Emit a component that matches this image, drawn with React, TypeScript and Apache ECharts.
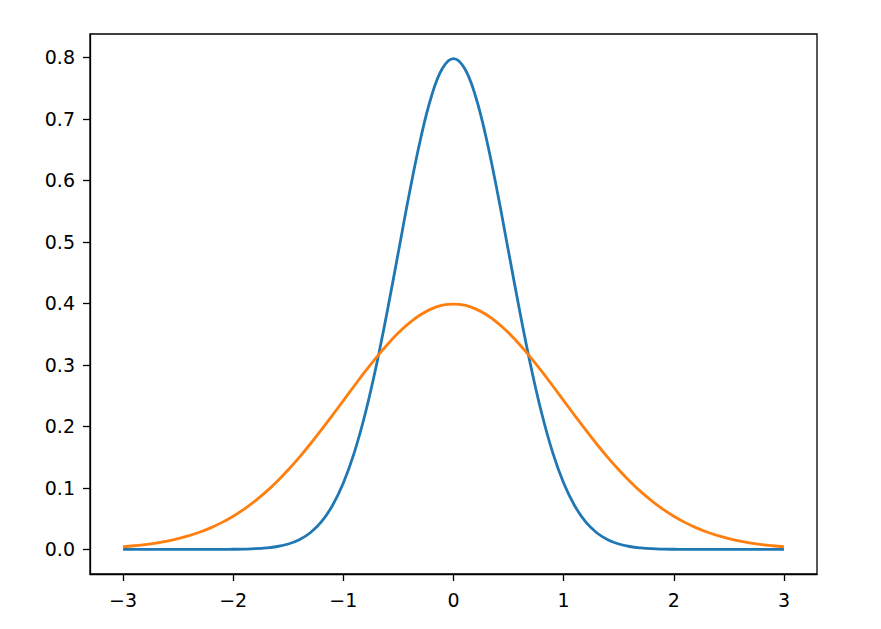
import React, { useEffect, useRef } from "react";
import * as echarts from "echarts";

const xs = [
  -3.0, -2.9, -2.8, -2.7, -2.6, -2.5, -2.4, -2.3, -2.2, -2.1,
  -2.0, -1.9, -1.8, -1.7, -1.6, -1.5, -1.4, -1.3, -1.2, -1.1,
  -1.0, -0.9, -0.8, -0.7, -0.6, -0.5, -0.4, -0.3, -0.2, -0.1,
  0.0,
  0.1, 0.2, 0.3, 0.4, 0.5, 0.6, 0.7, 0.8, 0.9, 1.0,
  1.1, 1.2, 1.3, 1.4, 1.5, 1.6, 1.7, 1.8, 1.9, 2.0,
  2.1, 2.2, 2.3, 2.4, 2.5, 2.6, 2.7, 2.8, 2.9, 3.0,
];

// narrow curve (blue)
const narrowValues = [
  0, 0, 0, 0, 0, 0, 0, 0, 0, 0.0001,
  0.0003, 0.0006, 0.0012, 0.0025, 0.0048, 0.0089, 0.0158, 0.0272, 0.0448, 0.071,
  0.108, 0.1579, 0.2218, 0.2995, 0.3884, 0.4839, 0.5794, 0.6664, 0.7366, 0.7821,
  0.7979,
  0.7821, 0.7366, 0.6664, 0.5794, 0.4839, 0.3884, 0.2995, 0.2218, 0.1579, 0.108,
  0.071, 0.0448, 0.0272, 0.0158, 0.0089, 0.0048, 0.0025, 0.0012, 0.0006, 0.0003,
  0.0001, 0, 0, 0, 0, 0, 0, 0, 0, 0,
];

// wide curve (orange)
const wideValues = [
  0.0044, 0.006, 0.0079, 0.0104, 0.0136, 0.0175, 0.0224, 0.0283, 0.0355, 0.044,
  0.054, 0.0656, 0.079, 0.094, 0.1109, 0.1295, 0.1497, 0.1714, 0.1942, 0.2179,
  0.242, 0.2661, 0.2897, 0.3123, 0.3332, 0.3521, 0.3683, 0.3814, 0.391, 0.397,
  0.3989,
  0.397, 0.391, 0.3814, 0.3683, 0.3521, 0.3332, 0.3123, 0.2897, 0.2661, 0.242,
  0.2179, 0.1942, 0.1714, 0.1497, 0.1295, 0.1109, 0.094, 0.079, 0.0656, 0.054,
  0.044, 0.0355, 0.0283, 0.0224, 0.0175, 0.0136, 0.0104, 0.0079, 0.006, 0.0044,
];

const xTicks = [-3, -2, -1, 0, 1, 2, 3];
const yTicks = [0, 0.1, 0.2, 0.3, 0.4, 0.5, 0.6, 0.7, 0.8];

const FONT = "DejaVu Sans";

export default function App() {
  const ref = useRef<HTMLDivElement>(null);
  useEffect(() => {
    if (!ref.current) return;
    const chart = echarts.init(ref.current, null, { renderer: "svg" });
    const axisLine = { show: true, onZero: false, lineStyle: { color: "#000", width: 1.3 } };
    const axisTick = { show: true, length: 7, lineStyle: { color: "#000", width: 1.3 } };
    chart.setOption({
      animation: false,
      backgroundColor: "#fff",
      grid: {
        left: 90,
        top: 34,
        right: 64,
        bottom: 55,
        show: true,
        borderColor: "#000",
        borderWidth: 1.3,
        backgroundColor: "transparent",
      },
      xAxis: {
        type: "value",
        min: -3.3,
        max: 3.3,
        axisLine,
        axisTick: { ...axisTick, customValues: xTicks },
        splitLine: { show: false },
        axisLabel: {
          customValues: xTicks,
          fontFamily: FONT,
          fontSize: 19,
          color: "#000",
          margin: 16,
          formatter: (v: number) => String(v).replace("-", "\u2212"),
        },
      },
      yAxis: {
        type: "value",
        min: -0.0399,
        max: 0.8378,
        axisLine,
        axisTick: { ...axisTick, customValues: yTicks },
        splitLine: { show: false },
        axisLabel: {
          customValues: yTicks,
          fontFamily: FONT,
          fontSize: 19,
          color: "#000",
          margin: 15,
          formatter: (v: number) => v.toFixed(1),
        },
      },
      series: [
        {
          type: "line",
          data: xs.map((x, i) => [x, narrowValues[i]]),
          showSymbol: false,
          smooth: 0.4,
          lineStyle: { color: "#1f77b4", width: 2.8 },
          itemStyle: { color: "#1f77b4" },
        },
        {
          type: "line",
          data: xs.map((x, i) => [x, wideValues[i]]),
          showSymbol: false,
          smooth: 0.4,
          lineStyle: { color: "#ff7f0e", width: 2.8 },
          itemStyle: { color: "#ff7f0e" },
        },
      ],
    });
    return () => chart.dispose();
  }, []);
  return (
    <div
      ref={ref}
      style={{ position: "fixed", left: 0, top: 0, width: 881, height: 629 }}
    />
  );
}
